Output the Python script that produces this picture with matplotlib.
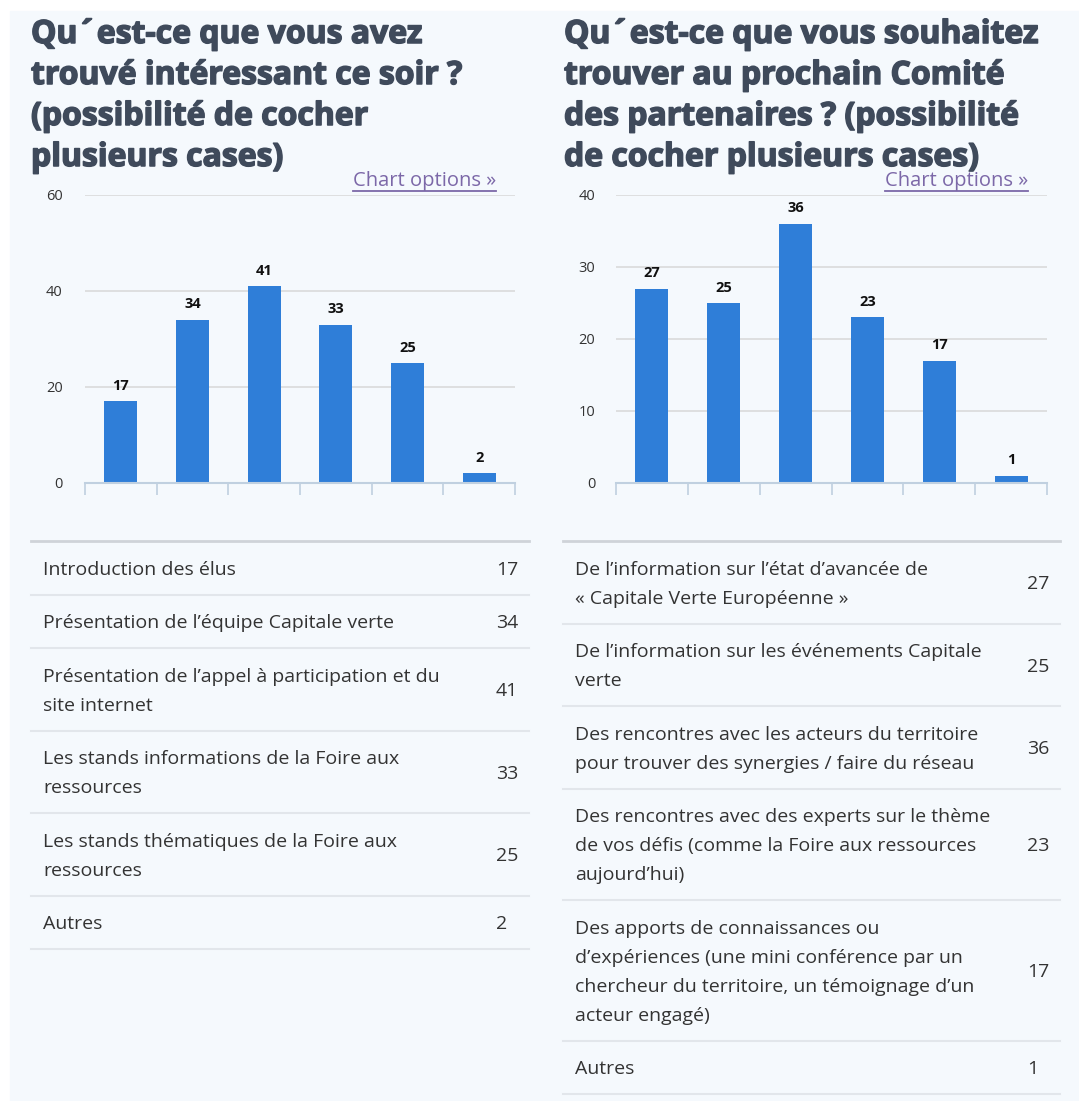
import matplotlib.pyplot as plt
import matplotlib.patheffects as pe
from matplotlib.patches import Rectangle
from matplotlib.lines import Line2D

W, H = 1079, 1101

left_title = ["Qu´est-ce que vous avez",
              "trouvé intéressant ce soir ?",
              "(possibilité de cocher",
              "plusieurs cases)"]
right_title = ["Qu´est-ce que vous souhaitez",
               "trouver au prochain Comité",
               "des partenaires ? (possibilité",
               "de cocher plusieurs cases)"]

left_values = [17, 34, 41, 33, 25, 2]
right_values = [27, 25, 36, 23, 17, 1]
left_ticks = [0, 20, 40, 60]
right_ticks = [0, 10, 20, 30, 40]

left_labels = ["Introduction des élus",
               "Présentation de l’équipe Capitale verte",
               "Présentation de l’appel à participation et du\nsite internet",
               "Les stands informations de la Foire aux\nressources",
               "Les stands thématiques de la Foire aux\nressources",
               "Autres"]
right_labels = ["De l’information sur l’état d’avancée de\n« Capitale Verte Européenne »",
                "De l’information sur les événements Capitale\nverte",
                "Des rencontres avec les acteurs du territoire\npour trouver des synergies / faire du réseau",
                "Des rencontres avec des experts sur le thème\nde vos défis (comme la Foire aux ressources\naujourd’hui)",
                "Des apports de connaissances ou\nd’expériences (une mini conférence par un\nchercheur du territoire, un témoignage d’un\nacteur engagé)",
                "Autres"]

BAR = '#2f7ed8'
BG = '#f5f9fd'
TITLE = '#3f4a5b'
TEXT = '#333333'
LINK = '#7c68a8'

plt.rcParams['font.family'] = ['Open Sans', 'DejaVu Sans']

fig = plt.figure(figsize=(W / 100, H / 100), dpi=100)
fig.patch.set_facecolor('white')
fig.add_artist(Rectangle((10 / W, 0), 1 - 10 / W, 1 - 11 / H,
                         transform=fig.transFigure, color=BG, zorder=0))


def fx(x):
    return x / W


def fy(y):
    return 1 - y / H


def hline(x0, x1, y, color, lw):
    fig.add_artist(Line2D([fx(x0), fx(x1)], [fy(y), fy(y)],
                          transform=fig.transFigure, color=color, lw=lw))


def draw_title(x, lines):
    for i, line in enumerate(lines):
        fig.text(fx(x), fy(43 + 41 * i), line, fontsize=23, fontweight='bold',
                 color=TITLE, va='baseline', ha='left',
                 path_effects=[pe.withStroke(linewidth=1.1, foreground=TITLE)])


def chart_options(x_right):
    t = fig.text(fx(x_right), fy(186), "Chart options »", fontsize=14.5,
                 color=LINK, ha='right', va='baseline')
    r = fig.canvas.get_renderer()
    bb = t.get_window_extent(r)
    fig.add_artist(Line2D([bb.x0 / W, bb.x1 / W], [fy(190.5), fy(190.5)],
                          transform=fig.transFigure, color=LINK, lw=1.3))


def draw_chart(x0, x1, y_top, y_zero, values, ticks, pad):
    ax = fig.add_axes([fx(x0), fy(y_zero), (x1 - x0) / W, (y_zero - y_top) / H])
    ax.set_facecolor('none')
    n = len(values)
    ax.bar(range(n), values, width=0.46, color=BAR, zorder=3)
    ax.set_xlim(-0.5, n - 0.5)
    ax.set_ylim(0, ticks[-1])
    ax.set_yticks(ticks)
    ax.set_xticks([i - 0.5 for i in range(n + 1)])
    ax.set_xticklabels([])
    ax.tick_params(axis='x', length=8.6, width=1.2, color='#c0d0e0', direction='out')
    ax.tick_params(axis='y', length=0, labelsize=10.5, labelcolor='#333333', pad=pad)
    ax.yaxis.grid(True, color='#d8d8d8', lw=1.1, zorder=0)
    ax.set_axisbelow(True)
    for s in ['top', 'right', 'left']:
        ax.spines[s].set_visible(False)
    ax.spines['bottom'].set_color('#c0d0e0')
    ax.spines['bottom'].set_linewidth(1.5)
    ax.spines['bottom'].set_zorder(4)
    for i, v in enumerate(values):
        ax.annotate(str(v), (i, v), xytext=(0, 6), textcoords='offset points',
                    ha='center', va='bottom', fontsize=10.5, fontweight='bold',
                    color='#111111')
    return ax


def draw_table(x0, x1, text_x, val_x, y0, labels, values):
    hline(x0, x1, y0, '#cfd3d9', 2)
    y = y0
    step = 29
    for label, v in zip(labels, values):
        lines = label.split('\n')
        n = len(lines)
        h = 24.5 + step * n
        c = y + h / 2
        for i, line in enumerate(lines):
            cy = c + (i - (n - 1) / 2) * step
            fig.text(fx(text_x), fy(cy + 7), line, fontsize=14, color=TEXT,
                     va='baseline', ha='left')
        fig.text(fx(val_x), fy(c + 7), str(v), fontsize=14, color=TEXT,
                 va='baseline', ha='left')
        y += h
        hline(x0, x1, y, '#e2e6eb', 1.5)


draw_title(31, left_title)
draw_title(564, right_title)
chart_options(496)
chart_options(1028)

draw_chart(85, 515, 195, 483, left_values, left_ticks, 16)
draw_chart(616, 1047, 195, 483, right_values, right_ticks, 15)

draw_table(31, 529, 43, 496, 541, left_labels, left_values)
draw_table(563, 1060, 575, 1027, 541, right_labels, right_values)

fig.savefig('out.png', dpi=100, facecolor=fig.get_facecolor())
